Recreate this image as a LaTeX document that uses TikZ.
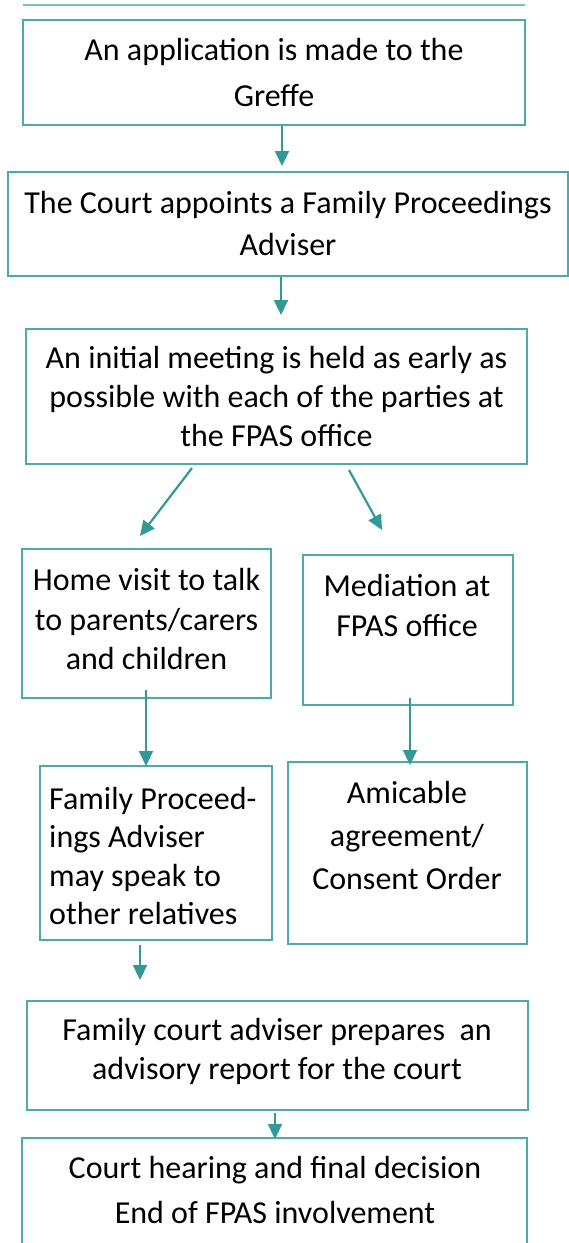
\documentclass[tikz,border=0pt]{standalone}
\usepackage{fontspec}
\setmainfont{Carlito}
\usetikzlibrary{arrows.meta}
\definecolor{boxc}{RGB}{75,170,170}
\definecolor{arrc}{RGB}{50,153,151}
\definecolor{linec}{RGB}{125,192,192}
\tikzset{
  box/.style={draw=boxc, line width=1.4pt, inner sep=0pt, align=center, text=black},
  txt/.style={inner sep=0pt, align=center, text=black},
  arr/.style={draw=arrc, line width=2.2pt, -{Triangle[width=14pt,length=15pt]}},
}
\begin{document}
\begin{tikzpicture}[x=1pt,y=-1pt]
\clip (0,0) rectangle (569,1243);
\useasboundingbox (0,0) rectangle (569,1243);
\node[draw=none, minimum width=502pt, inner sep=0pt] (topline) at (274,5) {};
\draw[linec, line width=2pt] (topline.west) -- (topline.east);

\node[box, minimum width=502pt, minimum height=105pt, font=\fontsize{32}{46}\selectfont] (b1) at (274,72.5)
  {An application is made to the\\Greffe};
\node[box, minimum width=560pt, minimum height=104pt, font=\fontsize{32}{42}\selectfont] (b2) at (288,224)
  {The Court appoints a Family Proceedings\\Adviser};
\node[box, minimum width=501pt, minimum height=135pt, font=\fontsize{32}{39}\selectfont] (b3) at (276.5,396.5)
  {An initial meeting is held as early as\\possible with each of the parties at\\the FPAS office};
\node[box, minimum width=249pt, minimum height=149pt, font=\fontsize{32}{39.5}\selectfont] (b4l) at (146.5,623.5) {};
\node[txt, font=\fontsize{32}{39.5}\selectfont] (t4l) at (146.5,619)
  {Home visit to talk\\to parents/carers\\and children};
\node[box, minimum width=210pt, minimum height=150pt] (b4r) at (408,630) {};
\node[txt, font=\fontsize{32}{40}\selectfont] (t4r) at (407,605)
  {Mediation at\\FPAS office};
\node[box, minimum width=232pt, minimum height=174pt] (b5l) at (156,853) {};
\node[txt, align=left, anchor=west, font=\fontsize{32}{38.5}\selectfont] (t5l) at (49,856)
  {Family Proceed-\\ings Adviser\\may speak to\\other relatives};
\node[box, minimum width=239pt, minimum height=182pt] (b5r) at (407.5,853) {};
\node[txt, font=\fontsize{32}{43}\selectfont] (t5r) at (407,835)
  {Amicable\\agreement/\\Consent Order};
\node[box, minimum width=501pt, minimum height=109pt] (b6) at (277.5,1055.5) {};
\node[txt, font=\fontsize{32}{39}\selectfont] (t6) at (277,1051)
  {Family court adviser prepares\ \ an\\advisory report for the court};
\node[box, minimum width=505pt, minimum height=130pt] (b7) at (274.5,1203) {};
\node[txt, font=\fontsize{32}{45}\selectfont] (t7) at (275,1190)
  {Court hearing and final decision\\End of FPAS involvement};

\coordinate (a1) at (282,166);
\coordinate (a2) at (281,315);
\coordinate (a3s) at (192,468);
\coordinate (a3) at (140,536);
\coordinate (a4s) at (349,470);
\coordinate (a4) at (382,530);
\coordinate (a5s) at (146,690);
\coordinate (a5) at (146,766);
\coordinate (a6) at (410,765);
\coordinate (a7s) at (140,945);
\coordinate (a7) at (140,980);
\coordinate (a8) at (275,1139);

\draw[arr] (b1.south -| a1) -- (a1);
\draw[arr] (b2.south -| a2) -- (a2);
\draw[arr] (a3s) -- (a3);
\draw[arr] (a4s) -- (a4);
\draw[arr] (a5s) -- (a5);
\draw[arr] (b4r.south -| a6) ++(0,-8) -- (a6);
\draw[arr] (a7s) -- (a7);
\draw[arr] (b6.south -| a8) ++(0,2) -- (a8);
\end{tikzpicture}
\end{document}
